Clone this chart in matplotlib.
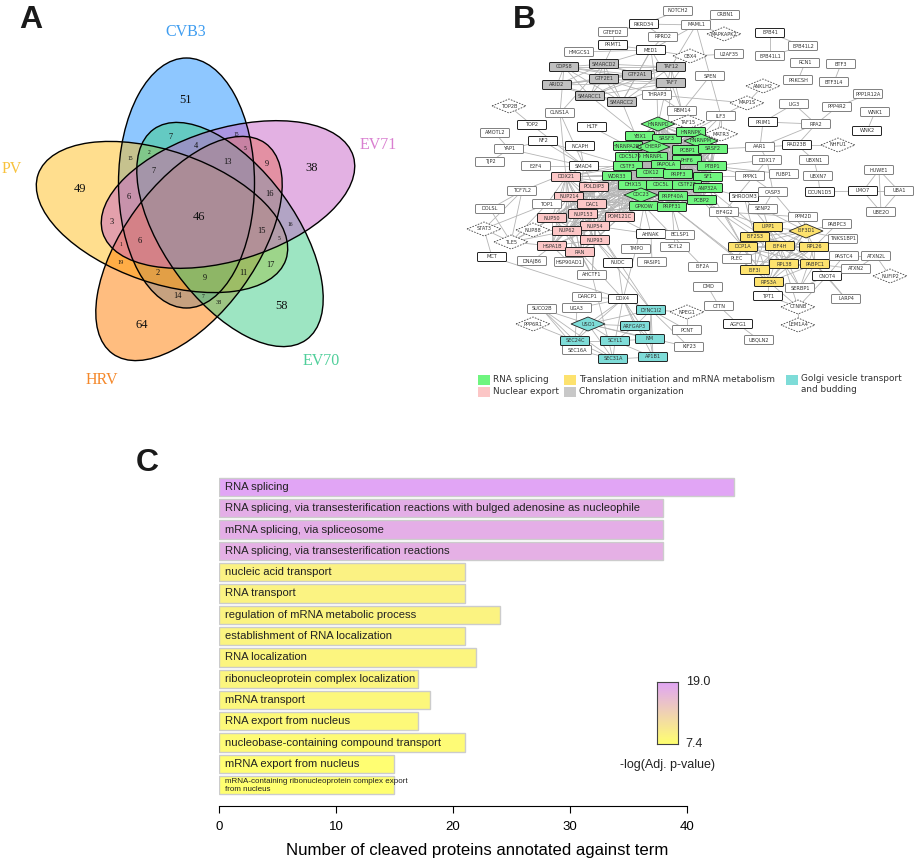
from itertools import combinations, product

import matplotlib
matplotlib.use('Agg')
import matplotlib.pyplot as plt
import numpy as np
from matplotlib.colors import LinearSegmentedColormap
from matplotlib.patches import Ellipse, FancyBboxPatch, Polygon, Rectangle

# Panel C data
terminos = [
    'RNA splicing',
    'RNA splicing, via transesterification reactions with bulged adenosine as nucleophile',
    'mRNA splicing, via spliceosome',
    'RNA splicing, via transesterification reactions',
    'nucleic acid transport',
    'RNA transport',
    'regulation of mRNA metabolic process',
    'establishment of RNA localization',
    'RNA localization',
    'ribonucleoprotein complex localization',
    'mRNA transport',
    'RNA export from nucleus',
    'nucleobase-containing compound transport',
    'mRNA export from nucleus',
    'mRNA-containing ribonucleoprotein complex export\nfrom nucleus',
]
conteos = [44, 38, 38, 38, 21, 21, 24, 21, 22, 17, 18, 17, 21, 15, 15]
log_p = [19.0, 17.8, 17.8, 17.6, 9.1, 9.0, 8.9, 8.8, 8.7, 8.6, 8.4, 8.2, 7.9, 7.6, 7.4]

# Panel A data
venn_nombres = ['CVB3', 'PV', 'HRV', 'EV70', 'EV71']
venn_regiones = ['51', '7', '15', '4', '5', '13', '9', '2', '15', '7', '38', '49', '6', '16', '46',
                 '3', '16', '15', '6', '1', '5', '19', '17', '2', '9', '11', '14', '7', '38', '58', '64']

# Panel B data, proteins by module
mod_splicing = ['HNRNPD', 'YBX1', 'SRSF3', 'HNRNPK', 'HNRNPA2B1', 'CHERP', 'HNRNPM', 'PCBP1', 'SRSF2',
                'CDC5L79', 'HNRNPL', 'PHF6', 'CSTF3', 'PAPOLA', 'PTBP1', 'WDR33', 'CDK12', 'PRPF3',
                'SF1', 'DHX15', 'CDC5L', 'CSTF2T', 'ANP32A', 'CDC23', 'PRPF40A', 'PCBP2', 'GPKOW', 'PRPF31']
mod_export = ['DDX21', 'POLDIP3', 'NUP214', 'DAC1', 'NUP50', 'NUP153', 'POM121C', 'NUP54', 'NUP62',
              'NUP93', 'HSPA1B', 'RAN']
mod_traduccion = ['LIPP1', 'EIF2S3', 'EIF3D1', 'DCP1A', 'EIF4H', 'RPL26', 'EIF3I', 'RPL38', 'PABPC1', 'RPS3A']
mod_cromatina = ['COPS8', 'SMARCD2', 'GTF2E1', 'GTF2A1', 'TAF12', 'TAF7', 'ARID2', 'SMARCC1', 'SMARCC2']
mod_golgi = ['DYNC1I2', 'USO1', 'ARFGAP3', 'SEC24C', 'SCYL1', 'NM', 'SEC31A', 'AP1B1']
diamantes = ['CBX4', 'MAPKAPK2', 'ANKLH2', 'MAP1S', 'MATR3', 'NHFU1', 'TOP2B', 'TAF15', 'STAT3', 'TLE5',
             'NUP88', 'PPP6R1', 'NPEG1', 'NUFIP2', 'CTNNB', 'LEM1A4', 'HNRNPD', 'CHERP', 'HNRNPM',
             'CDC23', 'EIF3D1', 'USO1']

# Node places in the picture, pixels
lugar = {
    'NOTCH2': (678, 11), 'RKRD34': (644, 24), 'GTEFD2': (613, 32), 'RPRD2': (663, 37), 'PRMT1': (613, 45),
    'HMGCS1': (579, 52), 'MED1': (651, 50), 'MAML1': (696, 25), 'CRBN1': (725, 15), 'CBX4': (690, 56),
    'MAPKAPK2': (724, 34), 'U2AF35': (729, 54), 'SPEN': (710, 76), 'EPB41': (770, 33), 'EPB41L2': (803, 46),
    'EPB41L1': (770, 56), 'RCN1': (805, 63), 'PRKCSH': (798, 80), 'BTF3': (841, 64), 'BTF3L4': (834, 82),
    'PPP1R12A': (868, 94), 'PPP4R2': (837, 107), 'WNK1': (875, 112), 'WNK2': (867, 131), 'ANKLH2': (763, 86),
    'MAP1S': (747, 103), 'LIG3': (794, 104), 'PRIM1': (763, 122), 'RPA2': (816, 124), 'ILF3': (721, 116),
    'MATR3': (721, 134), 'AAR1': (760, 147), 'RAD23B': (797, 145), 'NHFU1': (838, 145), 'DDX17': (767, 160),
    'UBXN1': (814, 160), 'PPPK1': (750, 176), 'FUBP1': (784, 174), 'UBXN7': (818, 176), 'DCUN1D5': (820, 192),
    'LMO7': (863, 191), 'HUWE1': (879, 170), 'UBA1': (899, 191), 'UBE2O': (881, 212), 'SHROOM3': (744, 197),
    'CASP3': (773, 192),
    'COPS8': (564, 67), 'SMARCD2': (604, 64), 'GTF2E1': (604, 79), 'GTF2A1': (637, 75), 'TAF12': (671, 67),
    'TAF7': (671, 83), 'ARID2': (557, 85), 'SMARCC1': (590, 96), 'SMARCC2': (622, 102), 'THRAP3': (657, 95),
    'RBM14': (682, 111), 'TAF15': (688, 122), 'CLNS1A': (560, 113), 'TOP2': (532, 125), 'TOP2B': (509, 106),
    'HLTF': (592, 127), 'AMOTL2': (495, 133), 'YAP1': (509, 149), 'NF2': (543, 141), 'NCAPH': (580, 146),
    'TJP2': (490, 162), 'E2F4': (536, 166), 'SMAD4': (584, 166),
    'DDX21': (566, 177), 'POLDIP3': (594, 187), 'NUP214': (569, 197), 'DAC1': (592, 204), 'TOP1': (547, 204),
    'NUP50': (552, 218), 'NUP153': (583, 214), 'POM121C': (620, 217), 'NUP54': (595, 226), 'NUP62': (567, 231),
    'NUP93': (595, 240), 'HSPA1B': (552, 246), 'RAN': (580, 252),
    'AHNAK': (651, 234), 'TMPO': (636, 249), 'NUDC': (618, 263), 'RASIP1': (652, 262), 'HSP90AD1': (569, 262),
    'DNAJB6': (532, 261), 'MCT': (492, 257), 'TLE5': (511, 242), 'STAT3': (484, 229), 'NUP88': (533, 230),
    'DOLSL': (490, 209), 'TCF7L2': (522, 191), 'AHCTF1': (592, 275), 'DARCP1': (587, 297), 'DDX4': (623, 299),
    'UGA3': (577, 308), 'SUCO2B': (542, 309), 'PPP6R1': (533, 324), 'SEC16A': (577, 350),
    'DYNC1I2': (651, 310), 'USO1': (588, 324), 'ARFGAP3': (635, 326), 'SEC24C': (575, 341), 'SCYL1': (615, 341),
    'NM': (650, 339), 'SEC31A': (613, 359), 'AP1B1': (653, 357), 'NPEG1': (687, 312), 'PCNT': (687, 330),
    'KIF23': (689, 347), 'BCLSP1': (680, 235), 'SCYL2': (675, 247), 'EIF2A': (703, 267), 'PLEC': (737, 259),
    'DMD': (708, 287), 'CTTN': (719, 306), 'AGFG1': (738, 324), 'UBQLN2': (759, 340),
    'TPT1': (768, 296), 'SERBP1': (800, 288), 'RPS3A': (769, 282), 'EIF3I': (755, 270), 'RPL38': (784, 264),
    'PABPC1': (815, 264), 'CNOT4': (827, 276), 'LARP4': (846, 299), 'CTNNB': (798, 307), 'LEM1A4': (798, 325),
    'ATXN2': (856, 269), 'ATXN2L': (876, 256), 'NUFIP2': (890, 276), 'PASTC4': (844, 256), 'TNKS1BP1': (843, 239),
    'PABPC3': (837, 224), 'PPM2D': (803, 217), 'SENP2': (763, 209), 'EIF4G2': (724, 212), 'LIPP1': (768, 227),
    'EIF2S3': (755, 237), 'DCP1A': (743, 247), 'EIF4H': (780, 246), 'RPL26': (814, 247), 'EIF3D1': (806, 231),
    'HNRNPD': (658, 124), 'YBX1': (640, 136), 'SRSF3': (667, 139), 'HNRNPK': (691, 132), 'HNRNPA2B1': (628, 146),
    'CHERP': (653, 147), 'HNRNPM': (701, 141), 'PCBP1': (687, 150), 'SRSF2': (713, 149), 'CDC5L79': (630, 157),
    'HNRNPL': (653, 157), 'PHF6': (687, 160), 'CSTF3': (628, 166), 'PAPOLA': (666, 165), 'PTBP1': (712, 166),
    'WDR33': (617, 176), 'CDK12': (651, 173), 'PRPF3': (678, 174), 'SF1': (708, 177), 'DHX15': (633, 185),
    'CDC5L': (661, 185), 'CSTF2T': (687, 185), 'ANP32A': (708, 188), 'CDC23': (641, 195), 'PRPF40A': (673, 196),
    'PCBP2': (702, 200), 'GPKOW': (644, 206), 'PRPF31': (672, 207),
}

# Interactions outside the dense modules
aristas = [
    ('NOTCH2', 'RKRD34'), ('RKRD34', 'MAML1'), ('RKRD34', 'GTEFD2'), ('RPRD2', 'MED1'), ('RPRD2', 'RKRD34'),
    ('PRMT1', 'MED1'), ('PRMT1', 'GTEFD2'), ('PRMT1', 'SMARCD2'), ('HMGCS1', 'MED1'), ('MED1', 'SMARCD2'),
    ('MED1', 'GTF2A1'), ('MED1', 'THRAP3'), ('MED1', 'TAF7'), ('MED1', 'SMARCC2'), ('MED1', 'MAML1'),
    ('MED1', 'CBX4'), ('CRBN1', 'MAML1'), ('MAML1', 'TAF12'), ('MAML1', 'SPEN'), ('CBX4', 'U2AF35'),
    ('CBX4', 'TAF7'), ('MAPKAPK2', 'MAML1'), ('SPEN', 'RBM14'), ('THRAP3', 'MAP1S'), ('SPEN', 'ILF3'),
    ('EPB41', 'EPB41L2'), ('EPB41', 'EPB41L1'), ('EPB41L1', 'EPB41L2'), ('RCN1', 'PRKCSH'), ('BTF3', 'BTF3L4'),
    ('WNK1', 'WNK2'), ('PPP1R12A', 'PPP4R2'), ('PPP4R2', 'RPA2'), ('LIG3', 'RPA2'), ('LIG3', 'PRIM1'),
    ('PRIM1', 'RPA2'), ('PRIM1', 'AAR1'), ('RPA2', 'AAR1'), ('RPA2', 'RAD23B'), ('RAD23B', 'NHFU1'),
    ('RAD23B', 'AAR1'), ('RAD23B', 'UBXN1'), ('UBXN1', 'UBXN7'), ('UBXN7', 'DCUN1D5'), ('DCUN1D5', 'LMO7'),
    ('LMO7', 'UBA1'), ('LMO7', 'HUWE1'), ('HUWE1', 'UBA1'), ('HUWE1', 'UBE2O'), ('LMO7', 'UBE2O'),
    ('UBA1', 'UBE2O'), ('ANKLH2', 'MAP1S'), ('MAP1S', 'ILF3'), ('ILF3', 'MATR3'), ('AAR1', 'SRSF2'),
    ('DDX17', 'PTBP1'), ('DDX17', 'CASP3'), ('DDX17', 'AAR1'), ('PPPK1', 'PTBP1'), ('FUBP1', 'PTBP1'),
    ('PPPK1', 'SF1'), ('SHROOM3', 'ANP32A'), ('CASP3', 'SENP2'), ('CASP3', 'PPPK1'), ('MATR3', 'SRSF2'),
    ('MATR3', 'HNRNPM'), ('RBM14', 'HNRNPK'), ('RBM14', 'TAF15'), ('ILF3', 'HNRNPK'), ('ILF3', 'PCBP1'),
    ('ILF3', 'PTBP1'), ('THRAP3', 'HNRNPD'), ('THRAP3', 'RBM14'), ('GTF2E1', 'THRAP3'), ('TAF7', 'RBM14'),
    ('TAF12', 'RBM14'), ('COPS8', 'CLNS1A'), ('SMARCD2', 'CLNS1A'), ('CLNS1A', 'SMAD4'), ('CLNS1A', 'DDX21'),
    ('SMARCC1', 'YBX1'), ('HLTF', 'HNRNPA2B1'), ('TOP2B', 'TOP2'), ('TOP2', 'SMAD4'), ('NF2', 'SMAD4'),
    ('NCAPH', 'SMAD4'), ('NF2', 'CSTF3'), ('AMOTL2', 'YAP1'), ('YAP1', 'TJP2'), ('YAP1', 'NF2'), ('YAP1', 'SMAD4'),
    ('E2F4', 'SMAD4'), ('SMAD4', 'CSTF3'), ('SMAD4', 'WDR33'), ('SMAD4', 'DDX21'), ('SMAD4', 'POLDIP3'),
    ('SMAD4', 'HSP90AD1'), ('TCF7L2', 'SMAD4'), ('TCF7L2', 'DOLSL'), ('TCF7L2', 'TLE5'), ('TCF7L2', 'STAT3'),
    ('TOP1', 'TLE5'), ('TOP1', 'STAT3'), ('TOP1', 'DDX21'), ('TOP1', 'CDK12'), ('DOLSL', 'TLE5'), ('STAT3', 'TLE5'),
    ('STAT3', 'MCT'), ('TLE5', 'NUP88'), ('TLE5', 'NUP50'), ('TLE5', 'HSPA1B'), ('TLE5', 'NUP62'), ('NUP88', 'NUP62'),
    ('NUP88', 'NUP50'), ('HSPA1B', 'DNAJB6'), ('HSPA1B', 'HSP90AD1'), ('HSPA1B', 'NUP62'), ('RAN', 'HSP90AD1'),
    ('RAN', 'AHCTF1'), ('NUP93', 'AHCTF1'), ('NUP54', 'AHCTF1'), ('NUP62', 'AHCTF1'), ('MCT', 'DDX4'),
    ('NUDC', 'NUP93'), ('NUDC', 'NUP54'), ('NUDC', 'DDX4'), ('TMPO', 'GPKOW'), ('TMPO', 'DDX4'), ('RASIP1', 'AHNAK'),
    ('AHNAK', 'GPKOW'), ('AHNAK', 'DAC1'), ('AHNAK', 'NUP54'), ('RAN', 'DDX4'), ('NUP93', 'DYNC1I2'),
    ('NUP54', 'DYNC1I2'), ('AHCTF1', 'SEC31A'), ('DDX4', 'DARCP1'), ('DDX4', 'UGA3'), ('DDX4', 'DYNC1I2'),
    ('DDX4', 'USO1'), ('DDX4', 'ARFGAP3'), ('DDX4', 'SCYL1'), ('DDX4', 'NM'), ('DDX4', 'SEC24C'), ('DDX4', 'AP1B1'),
    ('DYNC1I2', 'ARFGAP3'), ('DYNC1I2', 'NM'), ('DYNC1I2', 'NPEG1'), ('DYNC1I2', 'PCNT'), ('DYNC1I2', 'KIF23'),
    ('DYNC1I2', 'USO1'), ('DYNC1I2', 'AP1B1'), ('USO1', 'SEC24C'), ('USO1', 'SCYL1'), ('USO1', 'ARFGAP3'),
    ('USO1', 'SEC31A'), ('USO1', 'SUCO2B'), ('USO1', 'NM'), ('USO1', 'KIF23'), ('SEC24C', 'SCYL1'), ('SEC24C', 'SEC31A'),
    ('SEC24C', 'SEC16A'), ('SEC24C', 'SUCO2B'), ('SEC24C', 'PPP6R1'), ('SEC24C', 'UGA3'), ('SEC16A', 'SEC31A'),
    ('SEC16A', 'SUCO2B'), ('SEC31A', 'SCYL1'), ('SEC31A', 'AP1B1'), ('SCYL1', 'AP1B1'), ('SCYL1', 'NM'), ('NM', 'AP1B1'),
    ('SCYL1', 'ARFGAP3'), ('ARFGAP3', 'NM'), ('SEC31A', 'SUCO2B'), ('NPEG1', 'PCNT'),
    ('DMD', 'CTTN'), ('CTTN', 'AGFG1'), ('AGFG1', 'UBQLN2'), ('EIF2A', 'GPKOW'), ('BCLSP1', 'PRPF31'), ('SCYL2', 'PRPF31'),
    ('PLEC', 'PRPF31'), ('EIF4G2', 'PCBP2'), ('EIF4G2', 'DCP1A'), ('EIF4G2', 'LIPP1'), ('EIF4G2', 'EIF4H'),
    ('SENP2', 'EIF3D1'), ('SENP2', 'LIPP1'), ('PPM2D', 'EIF3D1'), ('PPM2D', 'LIPP1'), ('PPM2D', 'EIF4G2'),
    ('PABPC3', 'EIF3D1'), ('PABPC3', 'RPL26'), ('TNKS1BP1', 'EIF3D1'), ('TNKS1BP1', 'RPL26'), ('PASTC4', 'RPL26'),
    ('PASTC4', 'PABPC1'), ('PASTC4', 'ATXN2L'), ('PASTC4', 'CNOT4'), ('ATXN2', 'PABPC1'), ('ATXN2', 'CNOT4'),
    ('ATXN2', 'ATXN2L'), ('ATXN2L', 'NUFIP2'), ('CNOT4', 'LARP4'), ('CNOT4', 'PABPC1'), ('CNOT4', 'SERBP1'),
    ('CNOT4', 'CTNNB'), ('PABPC1', 'LARP4'), ('PLEC', 'EIF3I'), ('PLEC', 'DCP1A'), ('PLEC', 'EIF4H'), ('PLEC', 'RPL38'),
    ('SERBP1', 'RPS3A'), ('SERBP1', 'RPL38'), ('SERBP1', 'EIF4H'), ('SERBP1', 'RPL26'), ('SERBP1', 'PABPC1'),
    ('TPT1', 'RPS3A'), ('TPT1', 'CTNNB'), ('RPS3A', 'CTNNB'), ('RPL38', 'CTNNB'), ('CTNNB', 'LEM1A4'),
    ('DDX17', 'EIF4G2'), ('CASP3', 'EIF3D1'), ('SHROOM3', 'LIPP1'), ('SHROOM3', 'EIF2S3'), ('PCBP2', 'DCP1A'),
    ('PCBP2', 'EIF2S3'), ('ANP32A', 'EIF4H'), ('PRPF31', 'RPS3A'), ('ANP32A', 'DCP1A'),
]
# Dense modules: every protein pair is joined, the export module also reaches the splicing core
aristas += list(combinations(mod_splicing, 2))
aristas += list(combinations(mod_export, 2))
aristas += list(combinations(mod_traduccion, 2))
aristas += list(combinations(mod_cromatina, 2))
aristas += list(product(mod_export[:9], ['HNRNPL', 'CSTF3', 'WDR33', 'CDK12', 'DHX15', 'CDC23', 'GPKOW', 'PRPF3']))
aristas += [('DDX21', 'SMAD4'), ('SMARCC2', 'CDK12'), ('TAF7', 'SRSF3'), ('TAF12', 'HNRNPD')]

borde_oscuro = ['PRMT1', 'EPB41', 'MED1', 'RKRD34', 'TOP2', 'NF2', 'WNK2', 'AHNAK', 'NUDC', 'CNOT4', 'DCUN1D5',
                'LMO7', 'AGFG1', 'TPT1', 'DDX4', 'SHROOM3', 'SMAD4', 'NCAPH', 'HLTF', 'MCT', 'RAD23B', 'PRIM1']

colores_modulo = {'#6ff57f': mod_splicing, '#fcc6c6': mod_export, '#fde26e': mod_traduccion,
                  '#c0c0c0': mod_cromatina, '#7edcd8': mod_golgi}
color_nodo = {nombre: c for c, lista in colores_modulo.items() for nombre in lista}

fig = plt.figure(figsize=(9.16, 8.68), dpi=100)
lienzo = fig.add_axes([0, 0, 1, 1])
lienzo.set_xlim(0, 916)
lienzo.set_ylim(868, 0)
lienzo.axis('off')

for letra, x, y in [('A', 31, 28), ('B', 524, 28), ('C', 147, 471)]:
    lienzo.text(x, y, letra, family='Liberation Sans', weight='bold', size=23, ha='center', va='baseline', color='#1a1a1a')

# Panel A, five ellipses, drawn in the order that gives the overlap colours
elipses = [(186.5, 183, 250, 136, 90), (162, 217, 262, 132, 19), (189, 248.5, 260, 132, -54),
           (230, 234.5, 260, 132, 54), (228, 194.5, 262, 132, -17)]
tonos = ['#1e90ff', '#ffbe1e', '#ff7d00', '#3ccd87', '#c864c8']
for (cx, cy, ancho, alto, giro), tono in zip(elipses, tonos):
    lienzo.add_patch(Ellipse((cx, cy), ancho, alto, angle=giro, facecolor=tono, alpha=0.5, edgecolor='none', zorder=2))
for cx, cy, ancho, alto, giro in elipses:
    lienzo.add_patch(Ellipse((cx, cy), ancho, alto, angle=giro, fill=False, edgecolor='black', lw=1.0, zorder=3))

etiquetas_venn = [(186, 32, '#3f9df0'), (12, 169, '#f8c23c'), (102, 380, '#f5882a'), (321, 361, '#4fcf9a'), (378, 145, '#d97fd0')]
for nombre, (x, y, color) in zip(venn_nombres, etiquetas_venn):
    lienzo.text(x, y, nombre, family='Liberation Serif', size=11.5, color=color, ha='center', va='center')

sitios_venn = [(186, 100, 9), (171, 137, 6), (236, 134, 4), (196, 146, 6), (245, 149, 4), (228, 162, 6), (267, 164, 6),
               (149, 153, 4), (130, 158, 4), (154, 171, 6), (312, 168, 9), (80, 189, 9), (129, 197, 6), (269, 194, 6),
               (199, 217, 9), (112, 222, 6), (290, 225, 4), (261, 231, 6), (140, 241, 6), (121, 245, 4), (279, 238, 4),
               (121, 262, 4.5), (270, 265, 6), (158, 273, 6), (205, 278, 6), (243, 273, 6), (177, 296, 6), (203, 296, 4),
               (219, 303, 4.5), (281, 306, 9), (142, 325, 9)]
for valor, (x, y, tam) in zip(venn_regiones, sitios_venn):
    lienzo.text(x, y, valor, family='Liberation Serif', size=tam, color='#111111', ha='center', va='center', zorder=4)

# Panel B, edges then nodes
for a, b in aristas:
    if a in lugar and b in lugar:
        xa, ya = lugar[a]
        xb, yb = lugar[b]
        lienzo.plot([xa, xb], [ya, yb], color='#b4b4b4', lw=0.6, zorder=2, solid_capstyle='butt')

for nombre, (x, y) in lugar.items():
    relleno = color_nodo.get(nombre, 'white')
    borde = '#222222' if nombre in borde_oscuro or nombre in color_nodo else '#808080'
    if nombre in diamantes:
        rombo = Polygon([(x - 17, y), (x, y - 7), (x + 17, y), (x, y + 7)], closed=True, facecolor=relleno,
                        edgecolor='#222222' if relleno != 'white' else '#444444', lw=0.6,
                        linestyle='-' if relleno != 'white' else (0, (2, 1.5)), zorder=3)
        lienzo.add_patch(rombo)
    else:
        ancho = 29
        caja = FancyBboxPatch((x - ancho / 2, y - 4.5), ancho, 9, boxstyle='round,pad=0,rounding_size=1',
                              facecolor=relleno, edgecolor=borde, lw=0.7, zorder=3)
        lienzo.add_patch(caja)
    lienzo.text(x, y, nombre, size=3.6, color='#333333', ha='center', va='center', zorder=4)

# Panel B legend
leyenda = [(478, 375, '#6ff57f', 'RNA splicing'), (478, 387, '#fcc6c6', 'Nuclear export'),
           (564, 375, '#fde26e', 'Translation initiation and mRNA metabolism'),
           (564, 387, '#c8c8c8', 'Chromatin organization'),
           (786, 375, '#7edcd8', 'Golgi vesicle transport\nand budding')]
for x, y, color, texto in leyenda:
    lienzo.add_patch(Rectangle((x, y), 12, 10, facecolor=color, edgecolor='none'))
    lienzo.text(x + 15, y + 5 if '\n' not in texto else y - 1, texto, size=6.4, color='#333333', ha='left',
                va='top' if '\n' in texto else 'center', linespacing=1.25)

# Panel C, real axes with pixel-matched limits
ancho_fig, alto_fig = 916, 868
ax = fig.add_axes([219 / ancho_fig, 1 - 806 / alto_fig, (736 - 219) / ancho_fig, (806 - 470) / alto_fig])
ax.patch.set_alpha(0)
mapa = LinearSegmentedColormap.from_list('yp', ['#ffff70', '#e1a5f5'])
colores = mapa((np.array(log_p) - 7.4) / (19.0 - 7.4))
posiciones = np.arange(len(terminos))
ax.barh(posiciones, conteos, height=0.86, color=colores, edgecolor='#cccccc', lw=1)
for i, termino in enumerate(terminos):
    chico = '\n' in termino
    ax.text(0.5, i, termino, family='Liberation Sans', size=5.8 if chico else 8.1, color='#222222', ha='left', va='center',
            linespacing=1.25)
ax.set_xlim(0, 44.2)
ax.set_ylim(14.98, -0.8)
ax.set_yticks([])
ax.set_xticks([0, 10, 20, 30, 40])
ax.tick_params(axis='x', length=5, width=0.8, pad=6, labelsize=9.5)
for etiqueta in ax.get_xticklabels():
    etiqueta.set_family('Liberation Sans')
for lado in ['top', 'left', 'right']:
    ax.spines[lado].set_visible(False)
ax.spines['bottom'].set_bounds(0, 40)
ax.spines['bottom'].set_linewidth(0.8)
ax.set_xlabel('Number of cleaved proteins annotated against term', family='Liberation Sans', size=12.1, labelpad=7)

# Panel C color scale
barra = fig.add_axes([657 / ancho_fig, 1 - 744 / alto_fig, 21 / ancho_fig, 62 / alto_fig])
barra.imshow(np.linspace(1, 0, 100).reshape(-1, 1), cmap=mapa, aspect='auto')
barra.set_xticks([])
barra.set_yticks([])
for lado in barra.spines.values():
    lado.set_linewidth(0.8)
    lado.set_color('#444444')
lienzo.text(686, 682, '19.0', family='Liberation Sans', size=9, color='#222222', va='center')
lienzo.text(685, 744, '7.4', family='Liberation Sans', size=9, color='#222222', va='center')
lienzo.text(667, 765, '-log(Adj. p-value)', family='Liberation Sans', size=9, color='#222222', ha='center', va='center')

fig.savefig('out.png', dpi=100)
